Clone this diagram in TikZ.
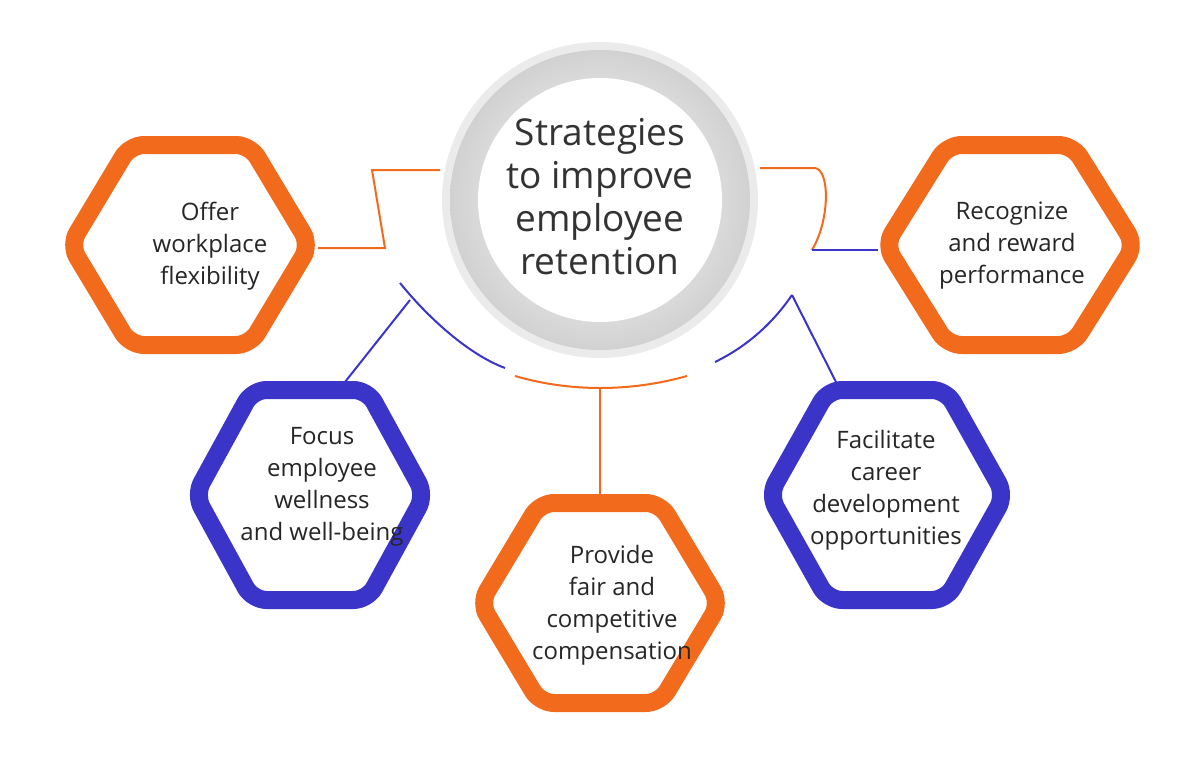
\documentclass[tikz,border=0pt]{standalone}
\usepackage{fontspec}
\setmainfont{Open Sans}
\begin{document}
\begin{tikzpicture}[x=1pt,y=-1pt,
  hexo/.style={line width=18pt,rounded corners=14pt,draw=orange1,fill=white,line join=round},
  hexb/.style={line width=18pt,rounded corners=14pt,draw=blue1,fill=white,line join=round},
  lbl/.style={align=center,font=\fontsize{24}{32}\selectfont,text=black!85},
  oc/.style={draw=orange1,line width=2pt},
  bc/.style={draw=blue1,line width=2pt}]
\definecolor{orange1}{HTML}{F26A1B}
\definecolor{blue1}{HTML}{3A35C8}
\useasboundingbox (0,0) rectangle (1200,760);
\fill[white] (0,0) rectangle (1200,760);
% connectors
\coordinate (o1) at (318,248);
\draw[oc] (o1) -- (385,248) -- (372,170) -- (440,170);
\draw[oc] (760,168) -- (815,168) .. controls (830,170) and (830,220) .. (812,250);
\draw[bc] (812,250) -- (878,250);
\draw[bc] (400,283) .. controls (430,320) and (470,355) .. (505,368);
\draw[bc] (410,300) -- (345,382);
\draw[oc] (515,376) .. controls (570,392) and (630,392) .. (687,376);
\draw[oc] (600,388) -- (600,497);
\draw[bc] (715,362) .. controls (750,345) and (775,320) .. (792,295);
\draw[bc] (792,295) -- (836,382);
% center
\fill[black!8] (600,200) circle (158);
\shade[inner color=white,outer color=black!18] (600,200) circle (150);
\fill[white] (600,200) circle (122);
\node[align=center,font=\fontsize{37}{43}\selectfont,text=black!80] (c) at (600,197) {Strategies\\to improve\\employee\\retention};
% hexagons
\def\hex#1#2#3#4#5{\draw[#5] (#1-#3,#2) -- (#1-#3/2,#2-#4) -- (#1+#3/2,#2-#4) -- (#1+#3,#2) -- (#1+#3/2,#2+#4) -- (#1-#3/2,#2+#4) -- cycle;}
\hex{190}{245}{120}{100}{hexo}
\hex{1010}{245}{125}{100}{hexo}
\hex{310}{495}{115}{105}{hexb}
\hex{600}{603}{120}{100}{hexo}
\hex{887}{495}{118}{105}{hexb}
\node[lbl] (a) at (210,246) {Offer\\workplace\\flexibility};
\node[lbl] (b) at (1012,246) {Recognize\\and reward\\performance};
\node[lbl] (d) at (322,487) {Focus\\employee\\wellness\\and well-being};
\node[lbl] (e) at (612,605) {Provide\\fair and\\competitive\\compensation};
\node[lbl] (f) at (886,490) {Facilitate\\career\\development\\opportunities};
\end{tikzpicture}
\end{document}
